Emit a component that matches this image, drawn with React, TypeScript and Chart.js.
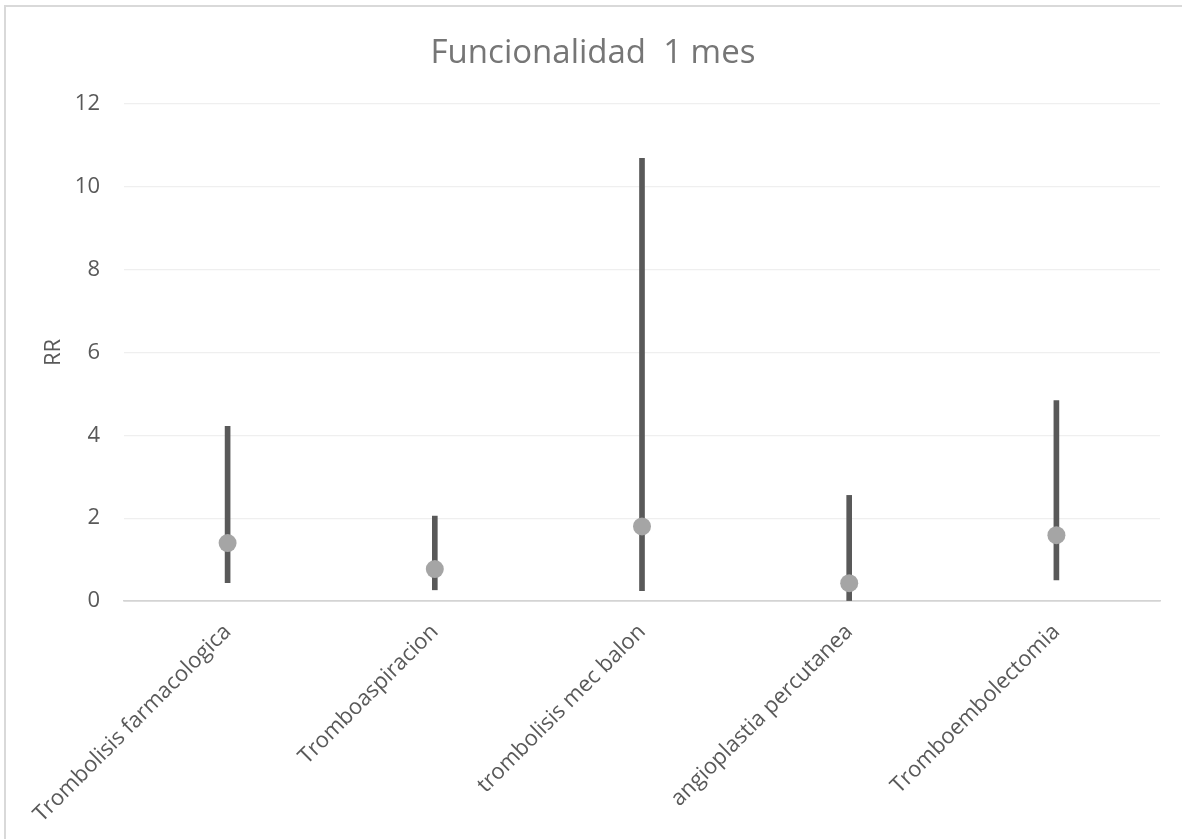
import React, { useEffect, useRef } from "react";
import { Chart, registerables } from "chart.js";

Chart.register(...registerables);

// Treatment groups on the category axis
const categories = [
  "Trombolisis farmacologica",
  "Tromboaspiracion",
  "trombolisis mec balon",
  "angioplastia percutanea",
  "Tromboembolectomia",
];

// Relative risk point estimates
const rrValues = [1.4, 0.77, 1.8, 0.43, 1.59];
// Confidence interval bounds
const ciLower = [0.44, 0.27, 0.25, 0.01, 0.51];
const ciUpper = [4.22, 2.05, 10.69, 2.55, 4.84];

// Value axis
const yMin = 0;
const yMax = 12;
const yStep = 2;

const chartTitle = "Funcionalidad  1 mes";
const yAxisTitle = "RR";

const FONT = "'Open Sans', 'DejaVu Sans', sans-serif";

export default function App() {
  const canvasRef = useRef<HTMLCanvasElement | null>(null);

  useEffect(() => {
    const canvas = canvasRef.current;
    if (!canvas) return;

    const chart = new Chart(canvas, {
      type: "bar",
      data: {
        labels: categories,
        datasets: [
          {
            type: "line",
            label: "RR",
            data: rrValues,
            showLine: false,
            pointRadius: 9,
            pointHoverRadius: 9,
            pointBackgroundColor: "#a5a5a5",
            pointBorderColor: "#a5a5a5",
            pointBorderWidth: 0,
            order: 0,
          },
          {
            type: "bar",
            label: "IC",
            data: categories.map((_, i) => [ciLower[i], ciUpper[i]]),
            backgroundColor: "#595959",
            borderWidth: 0,
            barThickness: 5,
            order: 1,
          },
        ],
      },
      options: {
        responsive: false,
        animation: false,
        layout: { padding: { left: 26, right: 22, top: 0, bottom: 0 } },
        plugins: {
          legend: { display: false },
          tooltip: { enabled: false },
          title: {
            display: true,
            text: chartTitle,
            color: "#767676",
            font: { family: FONT, size: 33, weight: "normal", lineHeight: 1.2 },
            padding: { top: 34, bottom: 30.4 },
          },
        },
        scales: {
          x: {
            type: "category",
            grid: { display: false, drawTicks: false },
            border: { display: true, color: "#d4d4d4", width: 1.5 },
            ticks: {
              color: "#595959",
              font: { family: FONT, size: 22 },
              minRotation: 45,
              maxRotation: 45,
              autoSkip: false,
              padding: 18,
            },
            afterFit: (scale: any) => {
              scale.height = 238;
            },
          },
          y: {
            min: yMin,
            max: yMax,
            grid: {
              drawTicks: false,
              color: (ctx: any) => (ctx.tick && ctx.tick.value === 0 ? "#d4d4d4" : "#efefef"),
              lineWidth: (ctx: any) => (ctx.tick && ctx.tick.value === 0 ? 1.5 : 1.3),
            },
            border: { display: false },
            ticks: {
              stepSize: yStep,
              color: "#595959",
              font: { family: FONT, size: 22 },
              padding: 24,
            },
            title: {
              display: true,
              text: yAxisTitle,
              color: "#595959",
              font: { family: FONT, size: 22, lineHeight: 1.2 },
              padding: { top: 15, bottom: 0 },
            },
            afterFit: (scale: any) => {
              scale.width = 98;
            },
          },
        },
      },
    });

    return () => {
      chart.destroy();
    };
  }, []);

  return (
    <div
      style={{
        position: "fixed",
        left: 0,
        top: 0,
        width: 1182,
        height: 839,
        background: "#ffffff",
        overflow: "hidden",
      }}
    >
      <div
        style={{
          position: "absolute",
          left: 4,
          top: 5,
          right: -20,
          bottom: -20,
          borderLeft: "2px solid #d9d9d9",
          borderTop: "2px solid #d9d9d9",
        }}
      />
      <canvas
        ref={canvasRef}
        width={1182}
        height={839}
        style={{ position: "absolute", left: 0, top: 0, width: 1182, height: 839 }}
      />
    </div>
  );
}
